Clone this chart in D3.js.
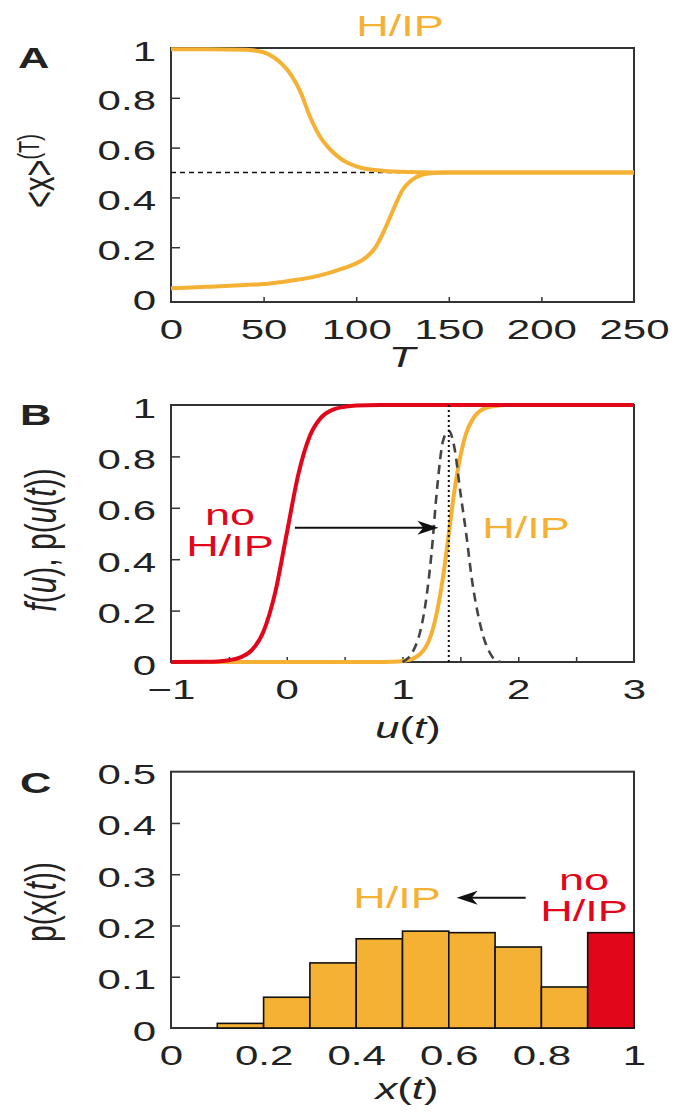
<!DOCTYPE html>
<html><head><meta charset="utf-8">
<script src="https://cdn.jsdelivr.net/npm/d3@7"></script>
<style>body{margin:0;background:#fff}</style>
</head><body>
<svg id="chart" width="679" height="1112"></svg>
<script>
// ---------- data ----------
// Panel A: <x>^(T) vs T
const timeT = [0, 20, 40, 45, 50, 55, 60, 65, 70, 75, 80, 85, 90, 95, 100, 105, 110, 115, 120, 125, 130, 135, 140, 150, 175, 200, 225, 250];
const upperMean = [0.995, 0.995, 0.993, 0.99, 0.983, 0.965, 0.935, 0.89, 0.822, 0.725, 0.65, 0.6, 0.565, 0.54, 0.525, 0.515, 0.51, 0.506, 0.504, 0.503, 0.502, 0.501, 0.5, 0.5, 0.5, 0.5, 0.5, 0.5];
const lowerMean = [0.035, 0.041, 0.048, 0.05, 0.052, 0.056, 0.06, 0.066, 0.071, 0.078, 0.086, 0.096, 0.108, 0.12, 0.135, 0.157, 0.195, 0.265, 0.35, 0.43, 0.47, 0.49, 0.497, 0.5, 0.5, 0.5, 0.5, 0.5];
const refLevel = 0.5;
const ticksAx = [0, 50, 100, 150, 200, 250];
const ticksAy = [0, 0.2, 0.4, 0.6, 0.8, 1];

// Panel B: f(u), p(u(t))
const uRed = [-1, -0.7, -0.6, -0.5, -0.4, -0.3, -0.2, -0.1, 0, 0.1, 0.2, 0.3, 0.4, 0.5, 0.6, 0.8, 1, 2, 3];
const fRed = [0, 0.001, 0.002, 0.007, 0.018, 0.047, 0.12, 0.27, 0.5, 0.73, 0.88, 0.953, 0.982, 0.993, 0.998, 1, 1, 1, 1];
const uOrange = [-1, 0.8, 0.9, 1.0, 1.1, 1.15, 1.2, 1.25, 1.3, 1.35, 1.4, 1.45, 1.5, 1.55, 1.6, 1.7, 1.8, 1.9, 3];
const fOrange = [0, 0, 0.001, 0.004, 0.015, 0.03, 0.057, 0.11, 0.2, 0.33, 0.5, 0.67, 0.8, 0.89, 0.94, 0.985, 0.996, 1, 1];
const uDens = [1.0, 1.05, 1.1, 1.15, 1.2, 1.25, 1.3, 1.35, 1.4, 1.45, 1.5, 1.55, 1.6, 1.65, 1.7, 1.75, 1.8, 1.85];
const pDens = [0, 0.016, 0.05, 0.113, 0.23, 0.42, 0.68, 0.86, 0.9, 0.83, 0.66, 0.5, 0.32, 0.19, 0.097, 0.04, 0.008, 0];
const uMean = 1.4;
const ticksBx = [-1, -0.5, 0, 0.5, 1, 1.5, 2, 2.5, 3];
const ticksBy = [0, 0.2, 0.4, 0.6, 0.8, 1];

// Panel C: histogram p(x(t))
const binStart = [0.1, 0.2, 0.3, 0.4, 0.5, 0.6, 0.7, 0.8, 0.9];
const binValue = [0.009, 0.06, 0.127, 0.174, 0.189, 0.186, 0.158, 0.08, 0.186];
const binGroup = ["hip", "hip", "hip", "hip", "hip", "hip", "hip", "hip", "nohip"];
const binWidth = 0.1;
const ticksCx = [0, 0.2, 0.4, 0.6, 0.8, 1];
const ticksCy = [0, 0.1, 0.2, 0.3, 0.4, 0.5];

// ---------- style ----------
const FONT = '"Liberation Sans", Arial, Helvetica, sans-serif';
const SX = 1.5;           // horizontal stretch of the original figure's text
const ORANGE = "#F5B133";
const RED = "#E2061B";
const INK = "#222";
const BOX = "#333";

const svg = d3.select("#chart");
const left = 171, right = 634;

function label(g, x, y, parts, o = {}) {
  const size = o.size || 29;
  const t = g.append("text")
    .attr("transform", o.rotate
      ? `translate(${x},${y}) rotate(-90) scale(1,${SX})`
      : `translate(${x},${y}) scale(${SX},1)`)
    .attr("text-anchor", o.anchor || "middle")
    .attr("font-family", FONT)
    .attr("font-size", size)
    .attr("font-weight", o.weight || "normal")
    .attr("fill", o.fill || INK);
  parts.forEach(p => {
    const s = t.append("tspan").text(p.t);
    if (p.i) s.attr("font-style", "italic");
    if (p.size) s.attr("font-size", p.size);
    if (p.dy) s.attr("dy", p.dy);
    if (p.x !== undefined) s.attr("x", p.x);
  });
  return t;
}

function box(g, x, y) {
  g.append("rect")
    .attr("x", x.range()[0]).attr("y", y.range()[1])
    .attr("width", x.range()[1] - x.range()[0])
    .attr("height", y.range()[0] - y.range()[1])
    .attr("fill", "none").attr("stroke", BOX).attr("stroke-width", 2);
}

function yAxis(g, y, x0, ticks, fmt) {
  const a = g.append("g").attr("transform", `translate(${x0},0)`)
    .call(d3.axisLeft(y).tickValues(ticks).tickSizeInner(-9).tickSizeOuter(0).tickFormat(fmt));
  a.attr("font-family", FONT).attr("font-size", 28);
  a.select(".domain").remove();
  a.selectAll(".tick line").attr("stroke", BOX).attr("stroke-width", 1.5)
    .filter(d => d === ticks[0] || d === ticks[ticks.length - 1]).remove();
  a.selectAll(".tick text").attr("x", null).attr("dy", null)
    .attr("transform", `translate(-15,12) scale(${SX},1)`)
    .attr("text-anchor", "end").attr("fill", INK);
}

function xAxis(g, x, y0, ticks, fmt) {
  const a = g.append("g").attr("transform", `translate(0,${y0})`)
    .call(d3.axisBottom(x).tickValues(ticks).tickSizeInner(-5).tickSizeOuter(0).tickFormat(fmt));
  a.attr("font-family", FONT).attr("font-size", 28);
  a.select(".domain").remove();
  a.selectAll(".tick line").attr("stroke", BOX).attr("stroke-width", 1.5)
    .filter(d => d === ticks[0] || d === ticks[ticks.length - 1]).remove();
  a.selectAll(".tick text").attr("y", null).attr("dy", null)
    .attr("transform", `translate(0,37) scale(${SX},1)`)
    .attr("text-anchor", "middle").attr("fill", INK);
}

function arrow(g, x1, x2, y) {
  const dir = Math.sign(x2 - x1);
  g.append("line").attr("x1", x1).attr("x2", x2 - dir * 8).attr("y1", y).attr("y2", y)
    .attr("stroke", "#111").attr("stroke-width", 2);
  g.append("path")
    .attr("d", `M${x2},${y} L${x2 - dir * 21},${y - 7} L${x2 - dir * 15},${y} L${x2 - dir * 21},${y + 7} Z`)
    .attr("fill", "#111");
}

const fmtG = d3.format("~g");

// ---------- Panel A ----------
{
  const g = svg.append("g");
  const x = d3.scaleLinear().domain([0, 250]).range([left, right]);
  const y = d3.scaleLinear().domain([-0.02, 1]).range([302, 48]);
  box(g, x, y);
  yAxis(g, y, left, ticksAy, fmtG);
  xAxis(g, x, y.range()[0], ticksAx, fmtG);
  g.append("line").attr("x1", x(0)).attr("x2", x(250)).attr("y1", y(refLevel)).attr("y2", y(refLevel))
    .attr("stroke", "#111").attr("stroke-width", 1.7).attr("stroke-dasharray", "5,4");
  const line = d3.line().x(d => x(d[0])).y(d => y(d[1])).curve(d3.curveMonotoneX);
  [upperMean, lowerMean].forEach(series => {
    g.append("path").attr("d", line(timeT.map((t, i) => [t, series[i]])))
      .attr("fill", "none").attr("stroke", ORANGE).attr("stroke-width", 4);
  });
  label(g, 400, 35.5, [{t: "H/IP"}], {fill: ORANGE, size: 30});
  label(g, 18, 68, [{t: "A"}], {anchor: "start", weight: "bold"});
  label(g, 402, 367, [{t: "T", i: true}]);
  label(g, 54, 171, [{t: "<x>"}, {t: "(T)", size: 20, dy: -10}], {rotate: true});
}

// ---------- Panel B ----------
{
  const g = svg.append("g");
  const x = d3.scaleLinear().domain([-1, 3]).range([left, right]);
  const y = d3.scaleLinear().domain([0, 1]).range([662, 405]);
  box(g, x, y);
  yAxis(g, y, left, ticksBy, fmtG);
  xAxis(g, x, y.range()[0], ticksBx, d => Number.isInteger(d) ? d3.format("d")(d) : "");
  const line = d3.line().x(d => x(d[0])).y(d => y(d[1])).curve(d3.curveMonotoneX);
  g.append("path").attr("d", line(uOrange.map((u, i) => [u, fOrange[i]])))
    .attr("fill", "none").attr("stroke", ORANGE).attr("stroke-width", 4);
  g.append("path").attr("d", line(uRed.map((u, i) => [u, fRed[i]])))
    .attr("fill", "none").attr("stroke", RED).attr("stroke-width", 4);
  g.append("path").attr("d", line(uDens.map((u, i) => [u, pDens[i]])))
    .attr("fill", "none").attr("stroke", "#444").attr("stroke-width", 2.6).attr("stroke-dasharray", "9,6");
  g.append("line").attr("x1", x(uMean)).attr("x2", x(uMean)).attr("y1", y(0)).attr("y2", y(1))
    .attr("stroke", "#111").attr("stroke-width", 2).attr("stroke-dasharray", "2,3");
  arrow(g, x(0.07), x(1.31), y(0.522));
  label(g, 230, 525, [{t: "no", x: 0}, {t: "H/IP", x: 0, dy: 31}], {fill: RED, size: 30});
  label(g, 526, 538, [{t: "H/IP"}], {fill: ORANGE, size: 30});
  label(g, 20, 425, [{t: "B"}], {anchor: "start", weight: "bold"});
  label(g, 408, 738, [{t: "u", i: true}, {t: "("}, {t: "t", i: true}, {t: ")"}]);
  label(g, 55.5, 540, [{t: "f", i: true}, {t: "("}, {t: "u", i: true}, {t: "), p("},
    {t: "u", i: true}, {t: "("}, {t: "t", i: true}, {t: "))"}], {rotate: true, size: 30});
}

// ---------- Panel C ----------
{
  const g = svg.append("g");
  const x = d3.scaleLinear().domain([0, 1]).range([left, right]);
  const y = d3.scaleLinear().domain([0, 0.5]).range([1028, 771.7]);
  box(g, x, y);
  yAxis(g, y, left, ticksCy, fmtG);
  xAxis(g, x, y.range()[0], ticksCx, fmtG);
  g.selectAll("rect.bar").data(binStart.map((b, i) => ({b, v: binValue[i], grp: binGroup[i]})))
    .join("rect").attr("class", "bar")
    .attr("x", d => x(d.b)).attr("width", d => x(d.b + binWidth) - x(d.b))
    .attr("y", d => y(d.v)).attr("height", d => y(0) - y(d.v))
    .attr("fill", d => d.grp === "hip" ? ORANGE : RED)
    .attr("stroke", "#111").attr("stroke-width", 1.6);
  arrow(g, x(0.766), x(0.617), y(0.254));
  label(g, 397, 908, [{t: "H/IP"}], {fill: ORANGE, size: 30});
  label(g, 584, 890, [{t: "no", x: 0}, {t: "H/IP", x: 0, dy: 31}], {fill: RED, size: 30});
  label(g, 20, 793, [{t: "C"}], {anchor: "start", weight: "bold"});
  label(g, 407, 1099, [{t: "x", i: true}, {t: "("}, {t: "t", i: true}, {t: ")"}]);
  label(g, 55.5, 902, [{t: "p(x("}, {t: "t", i: true}, {t: "))"}], {rotate: true, size: 30});
}
</script>
</body></html>
